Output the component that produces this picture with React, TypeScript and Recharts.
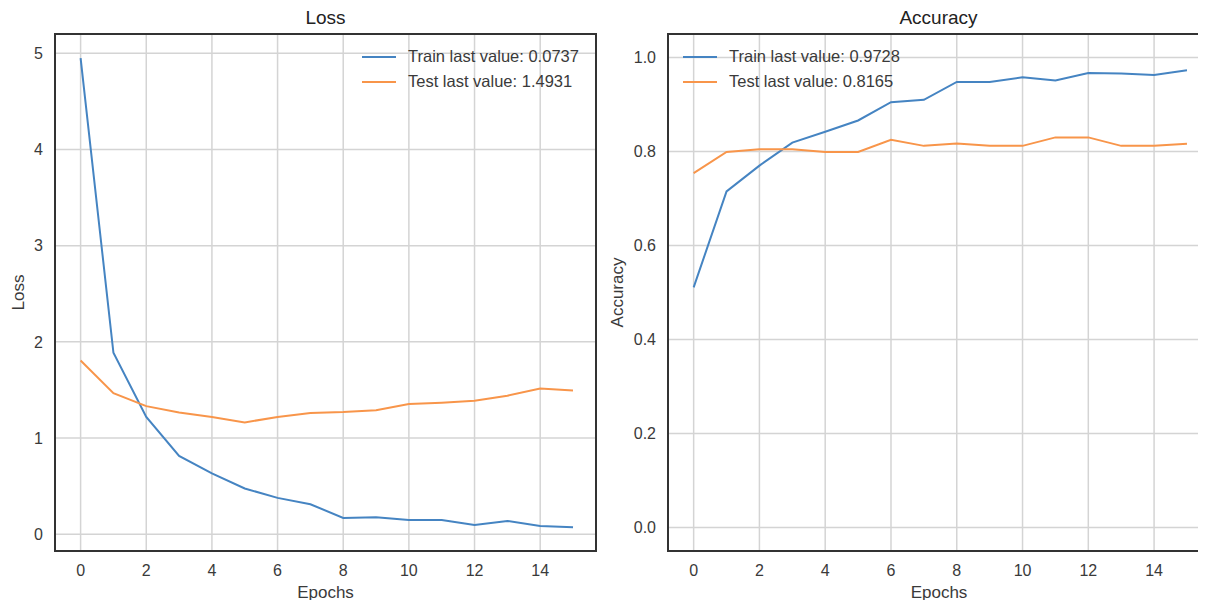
import {
  LineChart,
  Line,
  XAxis,
  YAxis,
  CartesianGrid,
  Legend,
  ReferenceArea,
} from "recharts";

const epochs = [0, 1, 2, 3, 4, 5, 6, 7, 8, 9, 10, 11, 12, 13, 14, 15];
const epochTicks = [0, 2, 4, 6, 8, 10, 12, 14];

const lossTrain = [
  4.95, 1.886, 1.22, 0.815, 0.632, 0.476, 0.378, 0.312, 0.17, 0.177, 0.149,
  0.149, 0.097, 0.139, 0.087, 0.0737,
];
const lossTest = [
  1.806, 1.466, 1.332, 1.266, 1.218, 1.163, 1.218, 1.26, 1.27, 1.29, 1.353,
  1.367, 1.388, 1.44, 1.516, 1.4931,
];
const lossTicks = [0, 1, 2, 3, 4, 5];

const accTrain = [
  0.511, 0.715, 0.77, 0.819, 0.842, 0.866, 0.905, 0.91, 0.948, 0.948, 0.958,
  0.951, 0.967, 0.966, 0.963, 0.9728,
];
const accTest = [
  0.754, 0.799, 0.805, 0.805, 0.799, 0.799, 0.825, 0.812, 0.817, 0.812, 0.812,
  0.83, 0.83, 0.812, 0.812, 0.8165,
];
const accTicks = [0, 0.2, 0.4, 0.6, 0.8, 1.0];

const BLUE = "#4584c2";
const ORANGE = "#f8954a";
const GRID = "#d4d4d4";
const TEXT = "#3a3a3a";
const FONT = '"Liberation Sans", Arial, sans-serif';
const xDomain = [-0.78, 15.7];
const seriesOrder = ["train", "test"];

const lossData = epochs.map((e, i) => ({
  epoch: e,
  train: lossTrain[i],
  test: lossTest[i],
}));
const accData = epochs.map((e, i) => ({
  epoch: e,
  train: accTrain[i],
  test: accTest[i],
}));

const last = (arr: number[]) => arr[arr.length - 1].toFixed(4);

function LegendBox({ payload }: any) {
  const items = [...(payload || [])].sort(
    (a: any, b: any) =>
      seriesOrder.indexOf(a.dataKey) - seriesOrder.indexOf(b.dataKey)
  );
  return (
    <div style={{ fontFamily: FONT, fontSize: 16.5, color: TEXT }}>
      {items.map((entry: any) => (
        <div
          key={entry.value}
          style={{ display: "flex", alignItems: "center", height: 25 }}
        >
          <svg width={34} height={4}>
            <line x1={0} y1={2} x2={34} y2={2} stroke={entry.color} strokeWidth={2} />
          </svg>
          <span style={{ marginLeft: 12, whiteSpace: "nowrap" }}>
            {entry.value}
          </span>
        </div>
      ))}
    </div>
  );
}

const tickStyle = { fontSize: 16, fill: TEXT, fontFamily: FONT };
const labelStyle = {
  textAnchor: "middle" as const,
  fontSize: 17,
  fill: TEXT,
  fontFamily: FONT,
};

interface PanelProps {
  data: { epoch: number; train: number; test: number }[];
  yDomain: number[];
  yTicks: number[];
  yLabel: string;
  yLabelOffset: number;
  yAxisWidth: number;
  width: number;
  rightMargin: number;
  legendLeft: number;
  trainName: string;
  testName: string;
  tickFormat?: (v: number) => string;
}

function Panel(p: PanelProps) {
  return (
    <LineChart
      width={p.width}
      height={608}
      data={p.data}
      margin={{ top: 34, right: p.rightMargin, left: 0, bottom: 0 }}
    >
      <CartesianGrid stroke={GRID} strokeWidth={1.5} />
      <XAxis
        dataKey="epoch"
        type="number"
        domain={xDomain}
        ticks={epochTicks}
        allowDataOverflow
        height={57}
        tickLine={false}
        axisLine={false}
        tickMargin={8}
        tick={tickStyle}
        label={{
          value: "Epochs",
          position: "insideBottom",
          offset: 10,
          style: labelStyle,
        }}
      />
      <YAxis
        type="number"
        domain={p.yDomain}
        ticks={p.yTicks}
        allowDataOverflow
        width={p.yAxisWidth}
        tickLine={false}
        axisLine={false}
        tickMargin={6}
        tick={tickStyle}
        tickFormatter={p.tickFormat}
        label={{
          value: p.yLabel,
          angle: -90,
          position: "insideLeft",
          offset: p.yLabelOffset,
          style: labelStyle,
        }}
      />
      <ReferenceArea
        x1={xDomain[0]}
        x2={xDomain[1]}
        y1={p.yDomain[0]}
        y2={p.yDomain[1]}
        fill="none"
        stroke="#333"
        strokeWidth={2}
        ifOverflow="visible"
      />
      <Line
        dataKey="train"
        name={p.trainName}
        stroke={BLUE}
        strokeWidth={2}
        dot={false}
        activeDot={false}
        isAnimationActive={false}
      />
      <Line
        dataKey="test"
        name={p.testName}
        stroke={ORANGE}
        strokeWidth={2}
        dot={false}
        activeDot={false}
        isAnimationActive={false}
      />
      <Legend
        layout="horizontal"
        verticalAlign="middle"
        align="center"
        content={LegendBox}
        wrapperStyle={{ left: p.legendLeft, top: 44, width: 260 }}
      />
    </LineChart>
  );
}

const titleStyle = {
  position: "absolute" as const,
  top: 6,
  width: 541,
  textAlign: "center" as const,
  fontSize: 19,
  lineHeight: "24px",
  color: "#222",
  fontFamily: FONT,
};

export default function App() {
  return (
    <div
      style={{
        position: "relative",
        width: 1206,
        height: 608,
        margin: -8,
        overflow: "hidden",
        background: "#fff",
      }}
    >
      <div style={{ ...titleStyle, left: 55 }}>Loss</div>
      <div style={{ ...titleStyle, left: 668 }}>Accuracy</div>
      <div style={{ position: "absolute", left: 0, top: 0 }}>
        <Panel
          data={lossData}
          yDomain={[-0.174, 5.2]}
          yTicks={lossTicks}
          yLabel="Loss"
          yLabelOffset={18}
          yAxisWidth={55}
          width={600}
          rightMargin={4}
          legendLeft={362}
          trainName={`Train last value: ${last(lossTrain)}`}
          testName={`Test last value: ${last(lossTest)}`}
        />
      </div>
      <div style={{ position: "absolute", left: 600, top: 0 }}>
        <Panel
          data={accData}
          yDomain={[-0.05, 1.05]}
          yTicks={accTicks}
          yLabel="Accuracy"
          yLabelOffset={17}
          yAxisWidth={68}
          width={610}
          rightMargin={0}
          legendLeft={83}
          trainName={`Train last value: ${last(accTrain)}`}
          testName={`Test last value: ${last(accTest)}`}
          tickFormat={(v: number) => v.toFixed(1)}
        />
      </div>
    </div>
  );
}
